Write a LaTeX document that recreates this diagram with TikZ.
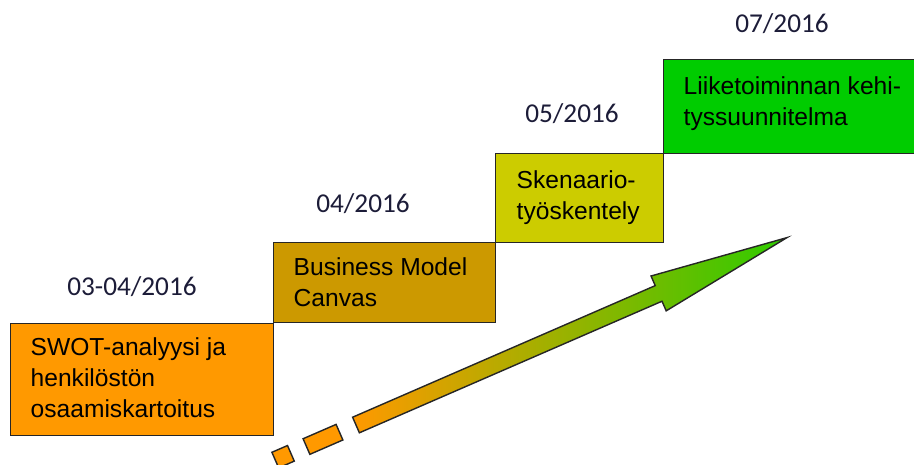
\documentclass[tikz,border=0pt]{standalone}
\usepackage{fontspec}
\setmainfont{Liberation Sans}
\newfontfamily\datefont{Carlito}
\usepackage{tikz}
\usetikzlibrary{calc}

\definecolor{swotorange}{HTML}{FF9900}
\definecolor{canvasgold}{HTML}{CC9900}
\definecolor{scenolive}{HTML}{CCCC00}
\definecolor{plangreen}{HTML}{00CC00}
\definecolor{datenavy}{HTML}{1C1C38}
\definecolor{arrowmid}{HTML}{C2B600}
\definecolor{arrowend}{HTML}{2ECC00}

\tikzset{
  stepbox/.style={draw=black!85, anchor=north west, inner sep=0pt},
  steptext/.style={anchor=north west, inner sep=0pt, align=left,
    font=\fontsize{14}{17.6}\selectfont},
  datelabel/.style={anchor=base, inner sep=0pt, text=datenavy,
    font=\datefont\fontsize{15.5}{18}\selectfont},
  arrowbody/.style={draw=black!85, left color=swotorange,
    middle color=arrowmid, right color=arrowend},
  dashpiece/.style={draw=black!85, fill=swotorange}
}

\begin{document}
\begin{tikzpicture}[thick, x=0.02cm, y=-0.02cm]
\useasboundingbox (0,0) rectangle (914,464);

% steps
\node[stepbox, fill=swotorange, minimum width=5.26cm, minimum height=2.24cm] (swot) at (10,323) {};
\node[stepbox, fill=canvasgold, minimum width=4.44cm, minimum height=1.6cm] (canvas) at (273,242) {};
\node[stepbox, fill=scenolive, minimum width=3.36cm, minimum height=1.78cm] (scenario) at (495,153) {};
\node[stepbox, fill=plangreen, minimum width=5.1cm, minimum height=1.88cm] (plan) at (663,59) {};

\node[steptext] (swottext) at ([shift={(20,14)}]swot.north west)
  {SWOT-analyysi ja\\henkilöstön\\osaamiskartoitus};
\node[steptext] (canvastext) at ([shift={(20,15)}]canvas.north west)
  {Business Model\\Canvas};
\node[steptext] (scenariotext) at ([shift={(21,17)}]scenario.north west)
  {Skenaario-\\työskentely};
\node[steptext] (plantext) at ([shift={(20,17)}]plan.north west)
  {Liiketoiminnan kehi-\\tyssuunnitelma};

% dates
\node[datelabel] (date1) at (132,295) {03-04/2016};
\node[datelabel] (date2) at (363,212) {04/2016};
\node[datelabel] (date3) at (572,122) {05/2016};
\node[datelabel] (date4) at (782,32) {07/2016};

% arrow
\coordinate (s) at (356,425);
\coordinate (neck) at ($(s)+(-23.5:330)$);
\coordinate (tip) at ($(s)+(-23.5:470)$);

\draw[arrowbody] ($(s)+(66.5:-8.5)$) -- ($(neck)+(66.5:-8.5)$)
  -- ($(neck)+(66.5:-19)$) -- (tip) -- ($(neck)+(66.5:19)$)
  -- ($(neck)+(66.5:8.5)$) -- ($(s)+(66.5:8.5)$) -- cycle;

\foreach \a/\b in {-54/-18, -88/-71}
\draw[dashpiece] ($(s)+(-23.5:\a)+(66.5:-8.5)$) -- ($(s)+(-23.5:\b)+(66.5:-8.5)$)
  -- ($(s)+(-23.5:\b)+(66.5:8.5)$) -- ($(s)+(-23.5:\a)+(66.5:8.5)$) -- cycle;
\end{tikzpicture}
\end{document}
